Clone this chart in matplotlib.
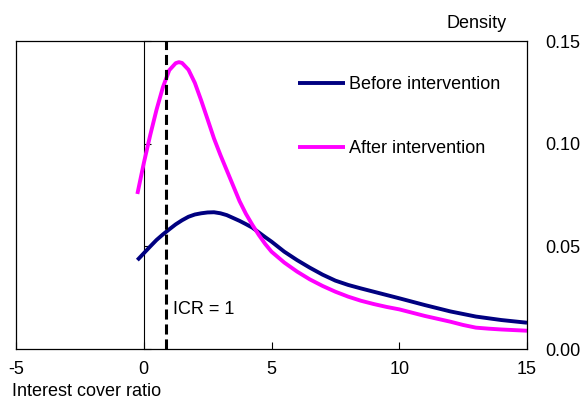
import matplotlib
matplotlib.use("Agg")
import matplotlib.pyplot as plt

# Density estimates, by interest cover ratio
icr_before = [-0.25, 0, 0.25, 0.5, 0.75, 1, 1.25, 1.5, 1.75, 2, 2.25, 2.5,
              2.75, 3, 3.25, 3.5, 3.75, 4, 4.25, 4.5, 4.75, 5, 5.5, 6, 6.5,
              7, 7.5, 8, 8.5, 9, 9.5, 10, 11, 12, 13, 14, 15]
before = [0.0433, 0.0466, 0.0499, 0.0531, 0.0558, 0.0583, 0.0607, 0.0627,
          0.0644, 0.0655, 0.0661, 0.0665, 0.0666, 0.0661, 0.0652, 0.0638,
          0.0624, 0.0608, 0.0591, 0.0568, 0.0545, 0.0523, 0.0474, 0.0433,
          0.0396, 0.0362, 0.0333, 0.0312, 0.0295, 0.0279, 0.0263, 0.0247,
          0.0214, 0.0183, 0.0158, 0.0141, 0.0128]

icr_after = [-0.25, 0, 0.25, 0.5, 0.75, 1, 1.25, 1.375, 1.5, 1.75, 2, 2.25,
             2.5, 2.75, 3, 3.25, 3.5, 3.75, 4, 4.25, 4.5, 4.75, 5, 5.5, 6,
             6.5, 7, 7.5, 8, 8.5, 9, 9.5, 10, 11, 12, 12.5, 13, 13.5, 14, 15]
after = [0.0755, 0.0904, 0.1040, 0.1165, 0.1275, 0.1358, 0.1392, 0.1397,
         0.1393, 0.1360, 0.1296, 0.1210, 0.1118, 0.1025, 0.0945, 0.0870,
         0.0795, 0.0720, 0.0658, 0.0605, 0.0556, 0.0512, 0.0474, 0.0421,
         0.0377, 0.0339, 0.0307, 0.0279, 0.0255, 0.0235, 0.0219, 0.0205,
         0.0193, 0.0161, 0.0133, 0.0117, 0.0104, 0.0099, 0.0095, 0.0089]

icr_marker = 0.87  # where the dashed ICR = 1 line sits on the chart
x_ticks = [-5, 0, 5, 10, 15]
y_ticks = [0.0, 0.05, 0.10, 0.15]

plt.rcParams['font.family'] = ['Liberation Sans', 'DejaVu Sans']
plt.rcParams['font.size'] = 13

fig = plt.figure(figsize=(5.82, 4.01), dpi=100)
ax = fig.add_axes([16 / 582, 52 / 401, 511 / 582, 308 / 401])

ax.plot(icr_before, before, color='#000080', lw=2.8,
        label='Before intervention', solid_capstyle='butt')
ax.plot(icr_after, after, color='#FF00FF', lw=2.8,
        label='After intervention', solid_capstyle='butt')
ax.axvline(icr_marker, color='black', lw=2.2, linestyle=(0, (3.3, 1.6)))
ax.text(1.15, 0.019, 'ICR = 1', va='center', ha='left', fontsize=13)

ax.set_xlim(-5, 15)
ax.set_ylim(0, 0.15)
ax.set_xticks(x_ticks)
ax.set_xticklabels([str(t) for t in x_ticks])
ax.tick_params(axis='x', direction='in', length=5, width=0.8, pad=9)
ax.yaxis.tick_right()
ax.set_yticks(y_ticks)
ax.set_yticklabels([f'{t:.2f}' for t in y_ticks])
ax.tick_params(axis='y', length=0, pad=13)
for s in ax.spines.values():
    s.set_linewidth(0.9)

# y axis crossing at x = 0, inside ticks, no labels
sec = ax.secondary_yaxis(0.25)
sec.set_yticks(y_ticks)
sec.tick_params(direction='in', length=5, width=0.8, labelleft=False)
sec.spines['left'].set_linewidth(0.8)

ax.legend(loc='upper left', bbox_to_anchor=(0.552, 0.886), frameon=False,
          handlelength=2.6, handletextpad=0.2, labelspacing=2.6,
          borderpad=0, borderaxespad=0, fontsize=13)

fig.text(507 / 582, 1 - 24 / 401, 'Density', ha='right', va='center', fontsize=13)
fig.text(12 / 582, 1 - 392 / 401, 'Interest cover ratio', ha='left', va='center',
         fontsize=13)

fig.savefig('out.png', dpi=100)
